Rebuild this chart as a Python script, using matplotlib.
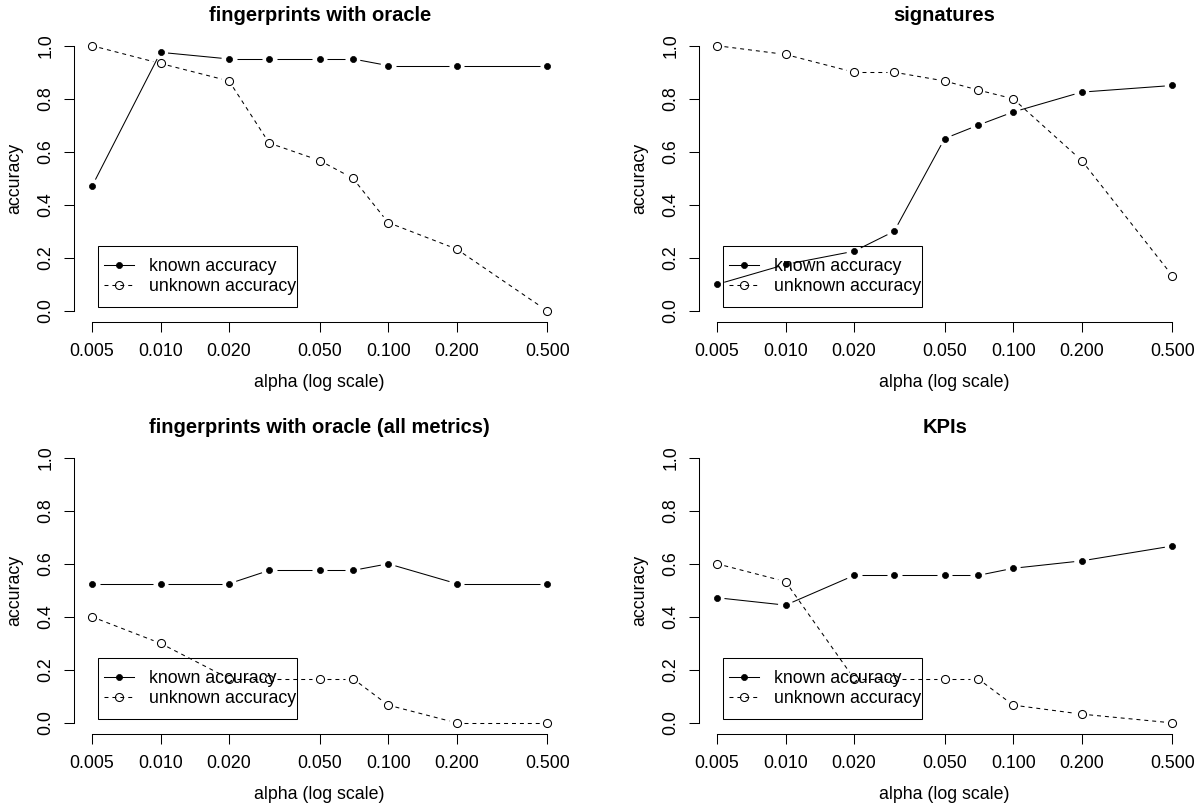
import numpy as np
import matplotlib
matplotlib.use('Agg')
import matplotlib.pyplot as plt
from matplotlib.lines import Line2D
from matplotlib.patches import Rectangle
from matplotlib.ticker import FixedLocator, FixedFormatter, NullLocator

plt.rcParams['font.family'] = ['Liberation Sans', 'DejaVu Sans']

# data
alpha = [0.005, 0.01, 0.02, 0.03, 0.05, 0.07, 0.1, 0.2, 0.5]
xticks = [0.005, 0.01, 0.02, 0.05, 0.1, 0.2, 0.5]
xticklabels = ['0.005', '0.010', '0.020', '0.050', '0.100', '0.200', '0.500']
yticks = [0.0, 0.2, 0.4, 0.6, 0.8, 1.0]

titles = ['fingerprints with oracle', 'signatures',
          'fingerprints with oracle (all metrics)', 'KPIs']

known_fp = [0.47, 0.975, 0.95, 0.95, 0.95, 0.95, 0.925, 0.925, 0.925]
unknown_fp = [1.0, 0.933, 0.867, 0.633, 0.567, 0.5, 0.333, 0.233, 0.0]

known_sig = [0.1, 0.175, 0.225, 0.3, 0.65, 0.7, 0.75, 0.825, 0.85]
unknown_sig = [1.0, 0.967, 0.9, 0.9, 0.867, 0.833, 0.8, 0.567, 0.133]

known_fp_all = [0.525, 0.525, 0.525, 0.575, 0.575, 0.575, 0.6, 0.525, 0.525]
unknown_fp_all = [0.4, 0.3, 0.167, 0.167, 0.167, 0.167, 0.067, 0.0, 0.0]

known_kpi = [0.472, 0.444, 0.556, 0.556, 0.556, 0.556, 0.583, 0.611, 0.667]
unknown_kpi = [0.6, 0.533, 0.167, 0.167, 0.167, 0.167, 0.067, 0.033, 0.0]

known = [known_fp, known_sig, known_fp_all, known_kpi]
unknown = [unknown_fp, unknown_sig, unknown_fp_all, unknown_kpi]

W, H = 1199, 810
fs = 12.8
lw = 0.75
dash = (0, (3.8, 3.8))

fig = plt.figure(figsize=(W / 100, H / 100), dpi=100)

# plot boxes in pixels: left, top
boxes = [(73.8, 35.1), (698.8, 35.1), (73.8, 447.1), (698.8, 447.1)]
bw, bh = 491.7, 286.4


def gapped(ax, x, y, gap, ls):
    # type="b" style: segments stop short of each point
    pts = ax.transData.transform(np.column_stack([x, y]))
    inv = ax.transData.inverted()
    for p, q in zip(pts[:-1], pts[1:]):
        d = q - p
        L = np.hypot(d[0], d[1])
        if L <= 2 * gap:
            continue
        u = d / L
        seg = inv.transform(np.array([p + u * gap, q - u * gap]))
        ax.plot(seg[:, 0], seg[:, 1], color='k', lw=lw, linestyle=ls,
                solid_capstyle='butt', dash_capstyle='butt')


for i in range(4):
    l, t = boxes[i]
    ax = fig.add_axes([l / W, 1 - (t + bh) / H, bw / W, bh / H])
    ax.set_xscale('log')
    lo, hi = np.log10(alpha[0]), np.log10(alpha[-1])
    pad = 0.04 * (hi - lo)
    ax.set_xlim(10 ** (lo - pad), 10 ** (hi + pad))
    ax.set_ylim(-0.04, 1.04)

    gapped(ax, alpha, known[i], 7.5, '-')
    gapped(ax, alpha, unknown[i], 7.5, dash)
    ax.plot(alpha, known[i], linestyle='none', marker='o', ms=4.4,
            mfc='k', mec='k', mew=0.5)
    ax.plot(alpha, unknown[i], linestyle='none', marker='o', ms=5.8,
            mfc='none', mec='k', mew=0.75)

    for s in ['top', 'right']:
        ax.spines[s].set_visible(False)
    ax.spines['left'].set_bounds(0, 1)
    ax.spines['bottom'].set_bounds(alpha[0], alpha[-1])
    for s in ['left', 'bottom']:
        ax.spines[s].set_linewidth(lw)

    ax.xaxis.set_major_locator(FixedLocator(xticks))
    ax.xaxis.set_major_formatter(FixedFormatter(xticklabels))
    ax.xaxis.set_minor_locator(NullLocator())
    ax.set_yticks(yticks)
    ax.set_yticklabels(['%.1f' % v for v in yticks])
    ax.tick_params(axis='both', direction='out', length=7.2, width=lw,
                   labelsize=fs, colors='k')
    ax.tick_params(axis='x', pad=8.4)
    ax.tick_params(axis='y', pad=6.8)
    for lab in ax.get_yticklabels():
        lab.set_rotation(90)
        lab.set_va('center')
        lab.set_ha('right')

    ax.text(0.5, 1 + 19.5 / bh, titles[i], transform=ax.transAxes,
            ha='center', va='center', fontsize=14.5, fontweight='bold')
    ax.text(0.5, -61.4 / bh, 'alpha (log scale)', transform=ax.transAxes,
            ha='center', va='center', fontsize=fs)
    ax.text(-59 / bw, 0.5, 'accuracy', transform=ax.transAxes,
            ha='center', va='center', rotation=90, fontsize=fs)

    # legend (R style box, bottom left with 5% inset)
    lw_box, lh_box = 199 / bw, 61 / bh
    ax.add_patch(Rectangle((0.05, 0.05), lw_box, lh_box, transform=ax.transAxes,
                           fill=False, edgecolor='k', lw=lw, zorder=5))
    handles = [
        Line2D([], [], color='k', lw=lw, marker='o', ms=4.4, mfc='k', mew=0.5),
        Line2D([], [], color='k', lw=lw, linestyle=dash, marker='o', ms=5.8,
               mfc='none', mew=0.75),
    ]
    ax.legend(handles, ['known accuracy', 'unknown accuracy'],
              loc='center left', bbox_to_anchor=(0.05, 0.05 + lh_box / 2),
              frameon=False, fontsize=fs, borderpad=0.34, borderaxespad=0,
              handlelength=1.69, handletextpad=0.84, labelspacing=0.15)

fig.savefig('out.png', dpi=100)
